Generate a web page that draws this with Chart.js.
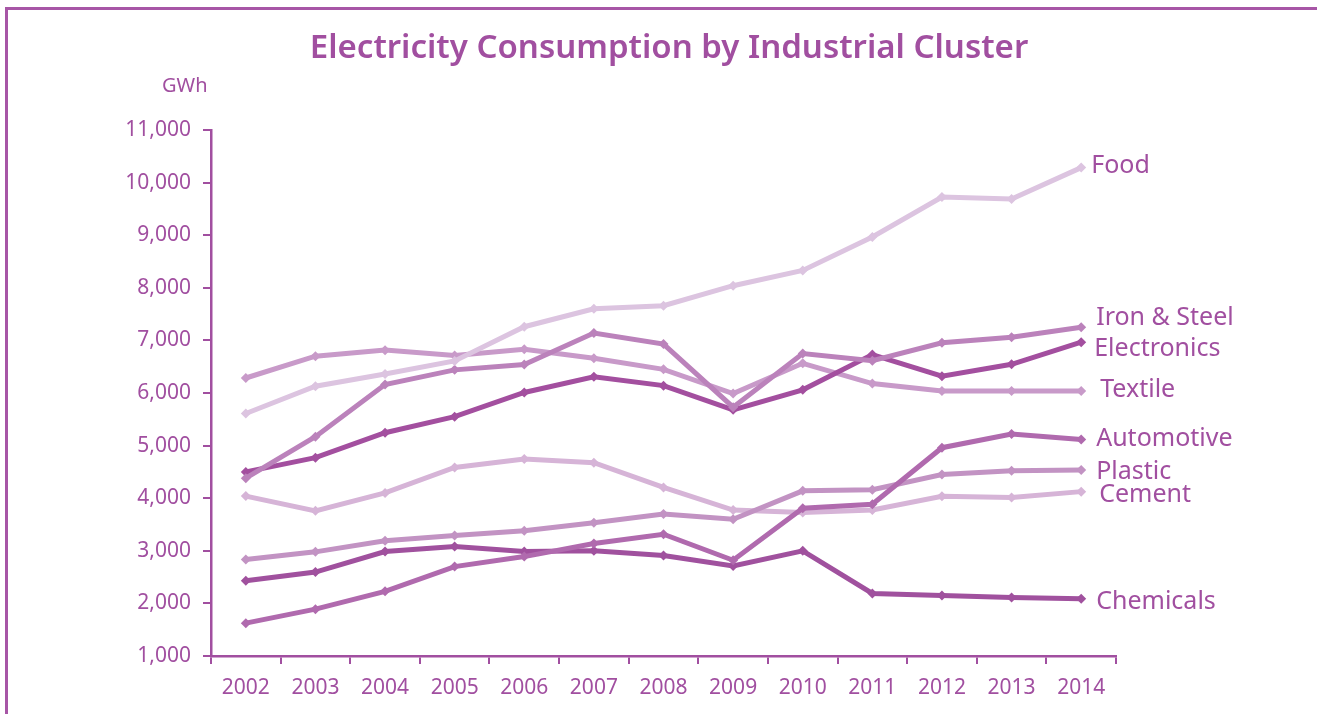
<!DOCTYPE html>
<html>
<head>
<meta charset="utf-8">
<script src="https://cdn.jsdelivr.net/npm/chart.js@4/dist/chart.umd.min.js"></script>
<style>
  html, body { margin: 0; padding: 0; background: #fff; overflow: hidden; }
  #wrap { position: absolute; left: 0; top: 0; width: 1317px; height: 714px; }
  #frame { position: absolute; left: 5px; top: 7px; width: 1400px; height: 800px;
           border-left: 3px solid #a756a6; border-top: 3px solid #a756a6; box-sizing: border-box; pointer-events: none; }
  canvas { position: absolute; left: 0; top: 0; }
</style>
</head>
<body>
<div id="wrap">
  <canvas id="c" width="1317" height="714"></canvas>
  <div id="frame"></div>
</div>
<script>
// ---- data ----
const years = ['2002','2003','2004','2005','2006','2007','2008','2009','2010','2011','2012','2013','2014'];
const seriesNames = ['Food','Iron & Steel','Electronics','Textile','Automotive','Plastic','Cement','Chemicals'];
const food        = [5610, 6130, 6360, 6610, 7260, 7600, 7660, 8040, 8330, 8965, 9725, 9690, 10285];
const ironSteel   = [4380, 5170, 6160, 6440, 6540, 7140, 6930, 5730, 6750, 6615, 6955, 7060, 7250];
const electronics = [4500, 4770, 5245, 5550, 6010, 6310, 6140, 5680, 6060, 6730, 6320, 6545, 6965];
const textile     = [6285, 6700, 6815, 6715, 6830, 6660, 6450, 5990, 6565, 6180, 6040, 6040, 6040];
const automotive  = [1625, 1890, 2230, 2700, 2890, 3140, 3315, 2820, 3810, 3885, 4960, 5220, 5115];
const plastic     = [2835, 2980, 3190, 3290, 3380, 3535, 3700, 3600, 4140, 4160, 4450, 4520, 4535];
const cement      = [4040, 3760, 4100, 4585, 4745, 4675, 4205, 3775, 3730, 3775, 4035, 4015, 4125];
const chemicals   = [2430, 2595, 2985, 3080, 2985, 3000, 2910, 2710, 3000, 2190, 2150, 2110, 2090];
const yTicksMin = 1000, yTicksMax = 11000, yTickStep = 1000;

// ---- styles ----
const purple = '#a14fa0';
const lineColors = ['#dcc4e0', '#bb82bb', '#a34f9f', '#c89ac9', '#b06aae', '#c293c3', '#d6b4d7', '#a0519e'];
const labelOffsets = [[10,-2],[15,-9],[13,7],[19,-1],[15,-1],[15,2],[18,3],[15,3]];
const FONT = "'Noto Sans', 'Open Sans', sans-serif";

const allSeries = [food, ironSteel, electronics, textile, automotive, plastic, cement, chemicals];

const endLabels = {
  id: 'endLabels',
  afterDatasetsDraw(chart) {
    const ctx = chart.ctx;
    ctx.save();
    ctx.font = '25px ' + FONT;
    ctx.fillStyle = purple;
    ctx.textAlign = 'left';
    ctx.textBaseline = 'middle';
    chart.data.datasets.forEach((ds, i) => {
      const meta = chart.getDatasetMeta(i);
      const pt = meta.data[meta.data.length - 1];
      ctx.fillText(ds.label, pt.x + labelOffsets[i][0], pt.y + labelOffsets[i][1]);
    });
    ctx.restore();
  }
};

const titles = {
  id: 'titles',
  afterDraw(chart) {
    const ctx = chart.ctx;
    ctx.save();
    ctx.fillStyle = purple;
    ctx.textBaseline = 'middle';
    ctx.textAlign = 'center';
    ctx.font = '600 33px ' + FONT;
    ctx.fillText('Electricity Consumption by Industrial Cluster', 669, 49);
    ctx.textAlign = 'left';
    ctx.font = '20px ' + FONT;
    ctx.fillText('GWh', 162, 86);
    ctx.restore();
  }
};

new Chart(document.getElementById('c'), {
  type: 'line',
  data: {
    labels: years,
    datasets: seriesNames.map((name, i) => ({
      label: name,
      data: allSeries[i],
      borderColor: lineColors[i],
      backgroundColor: lineColors[i],
      borderWidth: 5,
      pointStyle: 'rectRot',
      pointRadius: 5,
      pointBorderWidth: 0,
      tension: 0,
      fill: false
    }))
  },
  options: {
    responsive: false,
    animation: false,
    layout: { padding: { left: 0, right: 201, top: 130, bottom: 0 } },
    plugins: { legend: { display: false }, title: { display: false }, tooltip: { enabled: false } },
    scales: {
      x: {
        type: 'category',
        offset: true,
        grid: { display: true, offset: true, drawOnChartArea: false, drawTicks: true, tickLength: 8, color: purple, lineWidth: 2 },
        border: { display: true, color: purple, width: 2.5 },
        ticks: { color: purple, font: { family: FONT, size: 21 }, padding: 11, maxRotation: 0, autoSkip: false },
        afterFit(s) { s.height = 58; }
      },
      y: {
        min: yTicksMin, max: yTicksMax,
        grid: { display: true, drawOnChartArea: false, drawTicks: true, tickLength: 8, color: purple, lineWidth: 2 },
        border: { display: true, color: purple, width: 2.5 },
        ticks: { stepSize: yTickStep, color: purple, font: { family: FONT, size: 21 }, padding: 12,
                 callback: v => Number(v).toLocaleString('en-US') },
        afterFit(s) { s.width = 211; }
      }
    }
  },
  plugins: [endLabels, titles]
});
</script>
</body>
</html>
